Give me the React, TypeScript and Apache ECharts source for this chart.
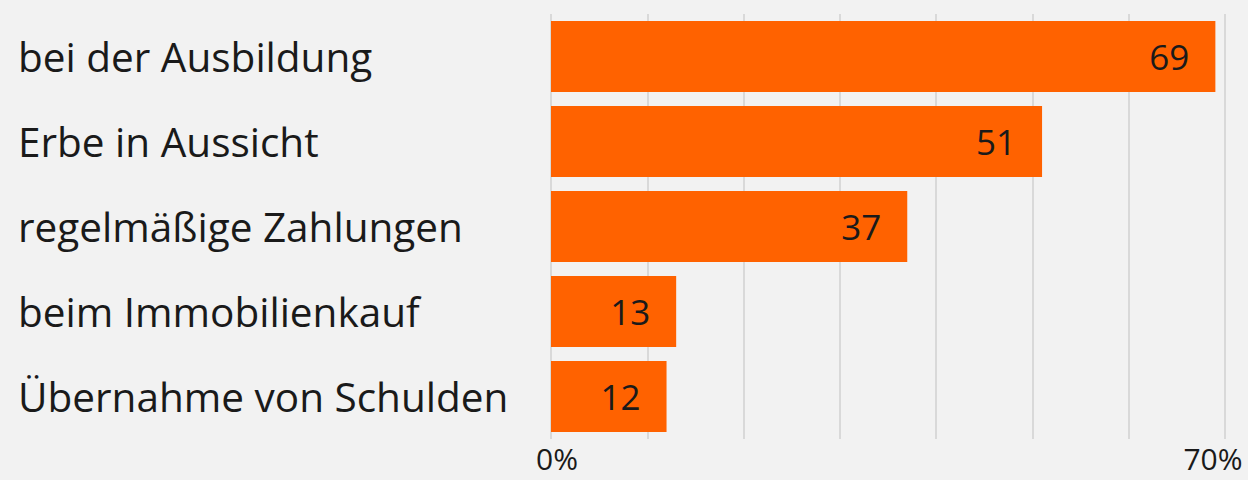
import React, { useEffect, useRef } from "react";
import * as echarts from "echarts";

const categories = [
  "bei der Ausbildung",
  "Erbe in Aussicht",
  "regelmäßige Zahlungen",
  "beim Immobilienkauf",
  "Übernahme von Schulden",
];
const values = [69, 51, 37, 13, 12];
const axisMin = 0;
const axisMax = 70;
const axisInterval = 10;
const shownTicks = [0, 70];

const FONT = "'Open Sans', 'Noto Sans', sans-serif";

export default function App() {
  const ref = useRef<HTMLDivElement>(null);
  useEffect(() => {
    if (!ref.current) return;
    const chart = echarts.init(ref.current, undefined, { renderer: "svg" });
    chart.setOption({
      animation: false,
      backgroundColor: "#f2f2f2",
      grid: {
        left: 551,
        right: 23,
        top: 14,
        bottom: 41,
        containLabel: false,
        outerBoundsMode: "none",
      },
      xAxis: {
        type: "value",
        min: axisMin,
        max: axisMax,
        interval: axisInterval,
        axisLine: { show: false },
        axisTick: { show: false },
        splitLine: { show: true, lineStyle: { color: "#d9d9d9", width: 2 } },
        axisLabel: {
          margin: 4,
          color: "#1a1a1a",
          fontFamily: FONT,
          fontSize: 30,
          lineHeight: 30,
          formatter: (v: number) => {
            if (!shownTicks.includes(v)) return "";
            return v === axisMin ? `{l|${v}%}` : `{r|${v}%}`;
          },
          rich: {
            l: { fontFamily: FONT, fontSize: 30, lineHeight: 30, color: "#1a1a1a", padding: [0, 0, 0, 12] },
            r: { fontFamily: FONT, fontSize: 30, lineHeight: 30, color: "#1a1a1a", padding: [0, 24, 0, 0] },
          },
        },
      },
      yAxis: {
        type: "category",
        data: categories,
        inverse: true,
        axisLine: { show: false },
        axisTick: { show: false },
        splitLine: { show: false },
        axisLabel: {
          align: "left",
          margin: 533,
          color: "#1a1a1a",
          fontFamily: FONT,
          fontSize: 40.5,
        },
      },
      series: [
        {
          type: "bar",
          data: values,
          barCategoryGap: "16.5%",
          itemStyle: { color: "#ff6200" },
          label: {
            show: true,
            position: "insideRight",
            distance: 26,
            color: "#1a1a1a",
            fontFamily: FONT,
            fontSize: 35,
          },
        },
      ],
    });
    return () => chart.dispose();
  }, []);
  return <div ref={ref} style={{ width: 1248, height: 480, position: "fixed", left: 0, top: 0 }} />;
}
